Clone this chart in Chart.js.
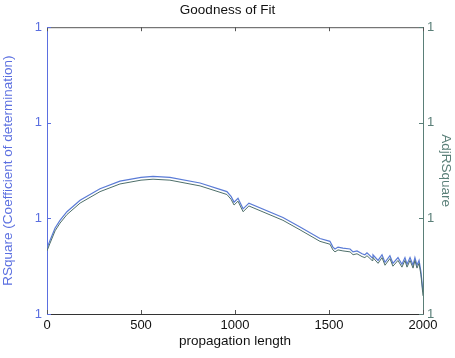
<!DOCTYPE html>
<html>
<head>
<meta charset="utf-8">
<script src="https://cdn.jsdelivr.net/npm/chart.js@4.4.0/dist/chart.umd.min.js"></script>
<style>
  html, body { margin: 0; padding: 0; background: #fff; }
  #box { width: 455px; height: 358px; }
</style>
</head>
<body>
<div id="box"><canvas id="grafico"></canvas></div>
<script>
// propagation length (x) and fit values (y, in axis units)
var comprimento = [0, 16, 43, 69, 106, 176, 282, 388, 500, 564, 654, 814, 957, 979, 995, 1016, 1043, 1074, 1255, 1346, 1452, 1505, 1521, 1532, 1548, 1574, 1612, 1628, 1649, 1676, 1691, 1702, 1729, 1734, 1761, 1782, 1798, 1824, 1840, 1867, 1888, 1904, 1915, 1931, 1947, 1957, 1968, 1979, 1989, 2000];
var rSquare = [0.69, 0.77, 0.90, 0.98, 1.07, 1.19, 1.31, 1.39, 1.43, 1.44, 1.43, 1.37, 1.28, 1.23, 1.17, 1.21, 1.10, 1.16, 1.01, 0.91, 0.79, 0.76, 0.70, 0.68, 0.70, 0.69, 0.68, 0.65, 0.66, 0.63, 0.62, 0.64, 0.59, 0.62, 0.56, 0.62, 0.54, 0.61, 0.53, 0.59, 0.52, 0.59, 0.52, 0.59, 0.51, 0.59, 0.51, 0.56, 0.44, 0.23];
var adjRSquare = [0.66, 0.74, 0.87, 0.95, 1.04, 1.16, 1.28, 1.36, 1.40, 1.41, 1.40, 1.34, 1.25, 1.20, 1.14, 1.18, 1.07, 1.13, 0.98, 0.88, 0.76, 0.73, 0.67, 0.65, 0.67, 0.66, 0.65, 0.62, 0.63, 0.60, 0.59, 0.61, 0.56, 0.59, 0.53, 0.59, 0.51, 0.58, 0.50, 0.56, 0.49, 0.56, 0.49, 0.56, 0.48, 0.56, 0.48, 0.53, 0.41, 0.19];
var xTicks = [0, 500, 1000, 1500, 2000];
var yTicks = [0, 1, 2, 3];
var yTickLabels = ['1', '1', '1', '1'];

var corAzul = '#5b6fe0';
var corVerde = '#5a7f78';
var fonte = 'Liberation Sans, Arial, sans-serif';

// ticks para dentro + borda de cima, estilo matlab
const caixaMatlab = {
    id: 'caixaMatlab',
    afterDatasetsDraw(chart) {
        const ctx = chart.ctx;
        const a = chart.chartArea;
        const sx = chart.scales.x;
        const sy = chart.scales.y;
        ctx.save();
        ctx.lineWidth = 1;
        ctx.strokeStyle = '#555';
        ctx.beginPath();
        ctx.moveTo(a.left, a.top + 0.5);
        ctx.lineTo(a.right, a.top + 0.5);
        for (const v of xTicks) {
            const px = Math.round(sx.getPixelForValue(v)) + 0.5;
            ctx.moveTo(px, a.bottom);
            ctx.lineTo(px, a.bottom - 4);
            ctx.moveTo(px, a.top);
            ctx.lineTo(px, a.top + 4);
        }
        ctx.stroke();
        ctx.strokeStyle = corAzul;
        ctx.beginPath();
        for (const v of yTicks) {
            const py = Math.round(sy.getPixelForValue(v)) + 0.5;
            ctx.moveTo(a.left, py);
            ctx.lineTo(a.left + 4, py);
        }
        ctx.stroke();
        ctx.strokeStyle = corVerde;
        ctx.beginPath();
        for (const v of yTicks) {
            const py = Math.round(sy.getPixelForValue(v)) + 0.5;
            ctx.moveTo(a.right, py);
            ctx.lineTo(a.right - 4, py);
        }
        ctx.stroke();
        ctx.restore();
    }
};

function pontos(ys) {
    const out = [];
    for (var i = 0; i < comprimento.length; i++) {
        out.push({ x: comprimento[i], y: ys[i] });
    }
    return out;
}

const config = {
    type: 'line',
    data: {
        datasets: [{
            label: 'AdjRSquare',
            data: pontos(adjRSquare),
            borderColor: '#4e6f6a',
            borderWidth: 1,
            pointRadius: 0,
            tension: 0,
            yAxisID: 'y2'
        }, {
            label: 'RSquare',
            data: pontos(rSquare),
            borderColor: '#5a7bd6',
            borderWidth: 1.2,
            pointRadius: 0,
            tension: 0,
            yAxisID: 'y'
        }]
    },
    options: {
        responsive: false,
        animation: false,
        layout: { padding: { left: 0, right: 0, top: 0, bottom: 0 } },
        plugins: {
            legend: { display: false },
            tooltip: { enabled: false },
            title: {
                display: true,
                text: 'Goodness of Fit',
                color: '#111',
                font: { family: fonte, size: 13.5, weight: 'normal' },
                padding: { top: 2, bottom: 9 }
            }
        },
        scales: {
            x: {
                type: 'linear',
                min: 0,
                max: 2000,
                afterBuildTicks: (s) => { s.ticks = xTicks.map(v => ({ value: v })); },
                afterFit: (s) => { s.height = 44; },
                grid: { display: false, drawTicks: false },
                border: { color: '#333', width: 1 },
                ticks: {
                    color: '#111',
                    font: { family: fonte, size: 13 },
                    padding: 4,
                    maxRotation: 0,
                    callback: (value) => String(value)
                },
                title: {
                    display: true,
                    text: 'propagation length',
                    color: '#111',
                    font: { family: fonte, size: 13.5 },
                    padding: { top: 0, bottom: 9 }
                }
            },
            y: {
                position: 'left',
                min: 0,
                max: 3,
                afterBuildTicks: (s) => { s.ticks = yTicks.map(v => ({ value: v })); },
                afterFit: (s) => { s.width = 47; },
                grid: { display: false, drawTicks: false },
                border: { color: corAzul, width: 1 },
                ticks: {
                    color: corAzul,
                    font: { family: fonte, size: 13 },
                    padding: 5,
                    callback: (value, i) => yTickLabels[i]
                },
                title: {
                    display: true,
                    text: 'RSquare (Coefficient of determination)',
                    color: corAzul,
                    font: { family: fonte, size: 13.5 },
                    padding: { top: 0, bottom: 4 }
                }
            },
            y2: {
                position: 'right',
                min: 0,
                max: 3,
                afterBuildTicks: (s) => { s.ticks = yTicks.map(v => ({ value: v })); },
                afterFit: (s) => { s.width = 32; },
                grid: { display: false, drawTicks: false },
                border: { color: corVerde, width: 1 },
                ticks: {
                    color: corVerde,
                    font: { family: fonte, size: 13 },
                    padding: 4,
                    callback: (value, i) => yTickLabels[i]
                },
                title: {
                    display: true,
                    text: 'AdjRSquare',
                    color: corVerde,
                    font: { family: fonte, size: 13.5 },
                    padding: { top: 1, bottom: 0 }
                }
            }
        }
    },
    plugins: [caixaMatlab]
};

const canvas = document.getElementById('grafico');
canvas.width = 455;
canvas.height = 358;
const myChart = new Chart(canvas, config);
</script>
</body>
</html>
